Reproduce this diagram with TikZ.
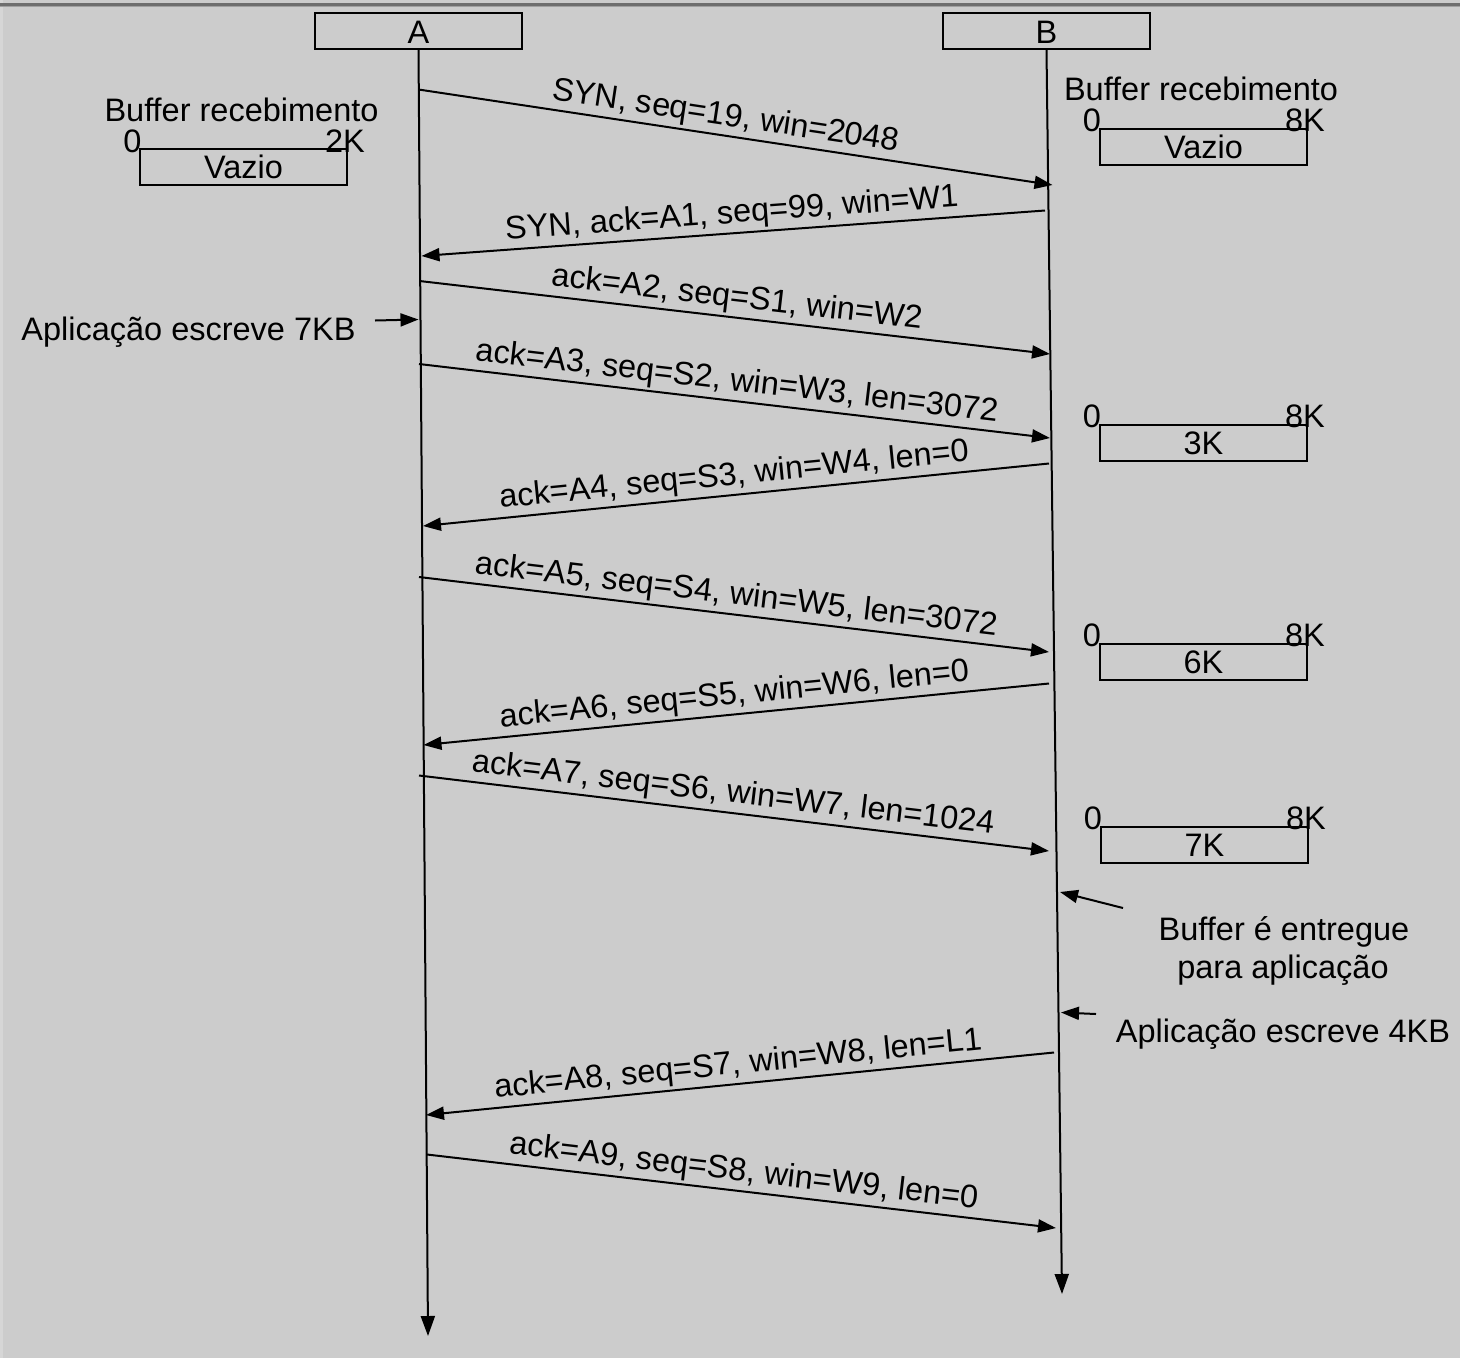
\documentclass[tikz,border=0pt]{standalone}
\usepackage{fontspec}
\setmainfont{Liberation Sans}
\usetikzlibrary{arrows.meta}
\definecolor{bgc}{HTML}{CCCCCC}
\definecolor{topband}{HTML}{6E6E6E}
\definecolor{topband2}{HTML}{A0A0A0}
\definecolor{leftstrip}{HTML}{D6D6D6}
\begin{document}
\begin{tikzpicture}[x=1pt,y=-1pt,
  every node/.style={font=\fontsize{32.5}{36}\selectfont, inner sep=0pt},
  life/.style={line width=2pt, -{Triangle[length=20pt,width=14pt]}},
  msg/.style={line width=2pt, -{Triangle[length=18pt,width=13pt]}},
  small/.style={line width=2pt, -{Triangle[length=18pt,width=13pt]}},
  lbl/.style={sloped, above, inner sep=2.5pt, pos=0.5},
  hostbox/.style={draw, line width=2pt, minimum width=207pt, minimum height=36pt},
  bufbox/.style={draw, line width=2pt, minimum width=207pt, minimum height=36pt},
  tick/.style={anchor=base}]
\useasboundingbox (0,0) rectangle (1460,1358);
\fill[bgc] (0,0) rectangle (1460,1358);
\fill[leftstrip] (0,0) rectangle (3,1358);
\fill[topband] (0,2.5) rectangle (1460,5.5);
\fill[topband2] (0,5.5) rectangle (1460,6.5);

% hosts
\node[hostbox] (boxA) at (418.5,31) {};
\node[tick] (labA) at (418.5,43) {A};
\node[hostbox] (boxB) at (1046.5,31) {};
\node[tick] (labB) at (1046.5,43) {B};
\coordinate (Aend) at (428,1336);
\coordinate (Bend) at (1062,1294);
\draw[life] (boxA.south) -- (Aend);
\draw[life] (boxB.south) -- (Bend);

% left buffer
\node[tick] (bufAt) at (241.5,121) {Buffer recebimento};
\node[bufbox] (bufA) at (243.5,167) {Vazio};
\node[tick] (bufA0) at (132.5,152) {0};
\node[tick] (bufA2) at (345,152) {2K};

% right buffers
\node[tick] (bufBt) at (1201,100) {Buffer recebimento};
\node[bufbox] (bufB1) at (1203.5,146.5) {Vazio};
\node[tick] (bufB1a) at (1092,131) {0};
\node[tick] (bufB1b) at (1305,131) {8K};

\node[bufbox] (bufB2) at (1203.5,443) {3K};
\node[tick] (bufB2a) at (1092,427) {0};
\node[tick] (bufB2b) at (1305,427) {8K};

\node[bufbox] (bufB3) at (1203.5,662) {6K};
\node[tick] (bufB3a) at (1092,646) {0};
\node[tick] (bufB3b) at (1305,646) {8K};

\node[bufbox] (bufB4) at (1204.5,845) {7K};
\node[tick] (bufB4a) at (1093,829) {0};
\node[tick] (bufB4b) at (1306,829) {8K};

% side notes
\node[tick] (noteA) at (188.5,340) {Aplicação escreve 7KB};
\coordinate (noteAs) at (375,320.5);
\coordinate (a7) at (418.5,319.5);
\draw[small] (noteAs) -- (a7);

\node[tick] (noteB1) at (1284,940) {Buffer é entregue};
\node[tick] (noteB1b) at (1283,978) {para aplicação};
\coordinate (noteB1s) at (1123,908);
\coordinate (b9) at (1060,892);
\draw[small] (noteB1s) -- (b9);

\node[tick] (noteB2) at (1283,1042) {Aplicação escreve 4KB};
\coordinate (noteB2s) at (1096,1014);
\coordinate (b10) at (1061,1012.5);
\draw[small] (noteB2s) -- (b10);

% message end points
\coordinate (a1) at (418.5,89.5);
\coordinate (b1) at (1052.5,185);
\coordinate (b2) at (1045,210.5);
\coordinate (a2) at (421.5,256);
\coordinate (a3) at (419.5,281);
\coordinate (b3) at (1050,354);
\coordinate (a4) at (419,364);
\coordinate (b4) at (1050,438);
\coordinate (b5) at (1049,463.5);
\coordinate (a5) at (423,526);
\coordinate (a6) at (419,577);
\coordinate (b6) at (1049,652);
\coordinate (b7) at (1049,683.5);
\coordinate (a8) at (423.5,745);
\coordinate (a9) at (419,775.5);
\coordinate (b8) at (1049,851);
\coordinate (b11) at (1054,1052.5);
\coordinate (a10) at (426,1115);
\coordinate (a11) at (427,1154.5);
\coordinate (b12) at (1056,1228);

% messages
\draw[msg] (a1) -- node[lbl, pos=0.48] (m1) {SYN, seq=19, win=2048} (b1);
\draw[msg] (b2) -- node[lbl] (m2) {SYN, ack=A1, seq=99, win=W1} (a2);
\draw[msg] (a3) -- node[lbl] (m3) {ack=A2, seq=S1, win=W2} (b3);
\draw[msg] (a4) -- node[lbl] (m4) {ack=A3, seq=S2, win=W3, len=3072} (b4);
\draw[msg] (b5) -- node[lbl] (m5) {ack=A4, seq=S3, win=W4, len=0} (a5);
\draw[msg] (a6) -- node[lbl] (m6) {ack=A5, seq=S4, win=W5, len=3072} (b6);
\draw[msg] (b7) -- node[lbl] (m7) {ack=A6, seq=S5, win=W6, len=0} (a8);
\draw[msg] (a9) -- node[lbl, pos=0.495] (m8) {ack=A7, seq=S6, win=W7, len=1024} (b8);
\draw[msg] (b11) -- node[lbl] (m9) {ack=A8, seq=S7, win=W8, len=L1} (a10);
\draw[msg] (a11) -- node[lbl] (m10) {ack=A9, seq=S8, win=W9, len=0} (b12);
\end{tikzpicture}
\end{document}
